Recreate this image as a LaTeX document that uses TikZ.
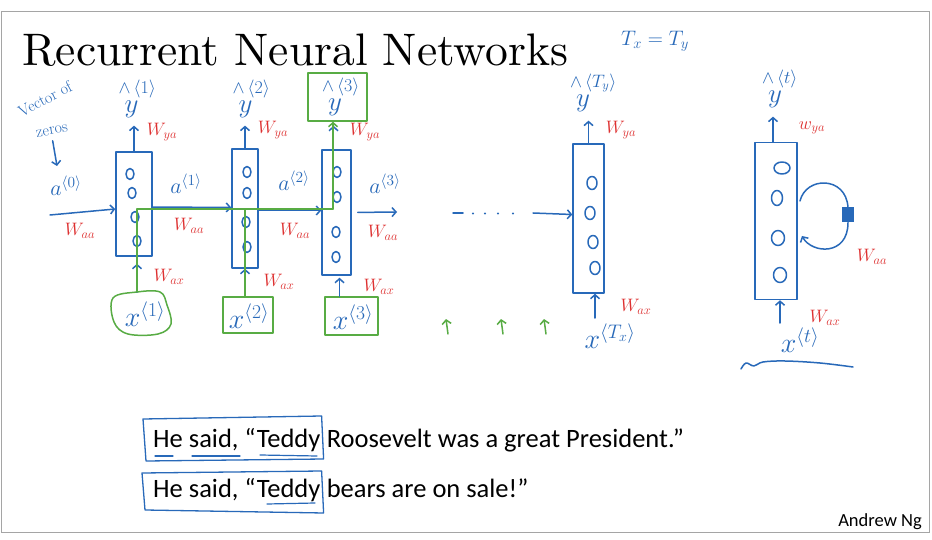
\RequirePackage{fix-cm}
\documentclass[tikz,border=0pt]{standalone}
\usepackage{fontspec}
\newfontfamily\sentfont{Carlito}
\newfontfamily\titlefont{lmroman10-regular.otf}
\usetikzlibrary{arrows.meta,shapes.geometric,calc}
\definecolor{inkblue}{RGB}{40,105,185}
\definecolor{inkred}{RGB}{222,48,48}
\definecolor{inkgreen}{RGB}{88,172,68}
\definecolor{slideframe}{RGB}{165,165,165}
% handwritten-style prediction label: hat and time index raised, y on the baseline
\newcommand{\predlabel}[1]{\rlap{\smash{\raisebox{19pt}{\fontsize{18}{18}\selectfont$\wedge\,\langle #1\rangle$}}}\hspace*{6pt}{\fontsize{27}{27}\selectfont$y$}}
\begin{document}
\begin{tikzpicture}[x=1pt,y=-1pt,
  ink/.style={draw=inkblue,line width=1.5pt,line cap=round,line join=round},
  gink/.style={draw=inkgreen,line width=1.5pt,line cap=round,line join=round},
  arr/.style={ink,-{Straight Barb[length=4pt,width=9pt]}},
  garr/.style={gink,-{Straight Barb[length=4pt,width=9pt]}},
  cell/.style={ink,rectangle,inner sep=0pt},
  neuron/.style={ink,ellipse,inner sep=0pt,minimum width=8pt,minimum height=11pt},
  bigneuron/.style={neuron,minimum width=10pt,minimum height=13pt},
  hugeneuron/.style={neuron,minimum width=13pt,minimum height=15pt},
  lbl/.style={text=inkblue,inner sep=0pt,font=\fontsize{28}{30}\selectfont},
  ylbl/.style={text=inkblue,inner sep=0pt},
  albl/.style={text=inkblue,inner sep=0pt,font=\fontsize{22}{24}\selectfont},
  wlbl/.style={text=inkred,inner sep=0pt,font=\fontsize{18}{20}\selectfont},
  gbox/.style={gink,rectangle,inner sep=0pt},
  sent/.style={inner sep=0pt,font=\sentfont\fontsize{26.5}{30}\selectfont},
]
% page and slide frame
\fill[white] (0,0) rectangle (932,540);
\useasboundingbox (0,0) rectangle (932,540);
\draw[slideframe,line width=1pt] (1.5,12) rectangle (929,532);

% title
\node[anchor=base west,inner sep=0pt,font=\titlefont\fontsize{45.6}{50}\selectfont] (title) at (22,66) {Recurrent Neural Networks};
\node[text=inkblue,inner sep=0pt,font=\fontsize{21}{24}\selectfont] (txty) at (655,41) {$T_x = T_y$};

% unrolled cells
\node[cell,minimum width=36pt,minimum height=104pt] (cA) at (134,204) {};
\node[cell,minimum width=26pt,minimum height=119pt] (cB) at (245,208.5) {};
\node[cell,minimum width=29pt,minimum height=125pt] (cC) at (336.5,212.5) {};
\node[cell,minimum width=31pt,minimum height=149pt] (cD) at (588.5,218.5) {};
\node[cell,minimum width=42pt,minimum height=157pt] (cE) at (776,221) {};

% hidden units
\node[neuron] (nA1) at (130,174) {};
\node[neuron] (nA2) at (132,193) {};
\node[neuron] (nA3) at (135,217) {};
\node[neuron] (nA4) at (137,241) {};
\node[neuron] (nB1) at (247,172) {};
\node[neuron] (nB2) at (247,193) {};
\node[neuron] (nB3) at (246,222) {};
\node[neuron] (nB4) at (247,247) {};
\node[neuron] (nC1) at (337,172) {};
\node[neuron] (nC2) at (337,197) {};
\node[neuron] (nC3) at (336,232) {};
\node[neuron] (nC4) at (336,257) {};
\node[bigneuron] (nD1) at (592,183) {};
\node[bigneuron] (nD2) at (590,213) {};
\node[bigneuron] (nD3) at (593,242) {};
\node[bigneuron] (nD4) at (595,268) {};
\node[hugeneuron,minimum width=16pt,minimum height=12pt] (nE1) at (782,168) {};
\node[hugeneuron,minimum width=11pt] (nE2) at (777,198) {};
\node[hugeneuron] (nE3) at (778,238) {};
\node[hugeneuron] (nE4) at (780,275) {};

% outputs
\node[ylbl] (yA) at (128.5,109) {\predlabel{1}};
\node[ylbl] (yB) at (242.5,109) {\predlabel{2}};
\node[gbox,minimum width=59pt,minimum height=48pt] (yCbox) at (337.5,97) {};
\node[ylbl] (yC) at (332,107) {\predlabel{3}};
\node[ylbl] (yD) at (580,103) {\predlabel{T_y}};
\node[ylbl] (yE) at (772,99) {\predlabel{t}};

\draw[arr,shorten >=8pt] (cA.north) -- (cA.north |- yA.south);
\draw[arr,shorten >=8pt] (cB.north) -- (cB.north |- yB.south);
\draw[arr] ([xshift=-3pt]cC.north) -- ([xshift=-4pt,yshift=-4pt]yCbox.south);
\draw[arr,shorten >=9pt] (cD.north) -- (cD.north |- yD.south);
\draw[arr,shorten >=9pt] ([xshift=-3pt]cE.north) -- ([xshift=-3pt]cE.north |- yE.south);

\node[wlbl] (wyA) at (162,132) {$W_{ya}$};
\node[wlbl] (wyB) at (273,130) {$W_{ya}$};
\node[wlbl] (wyC) at (365,132) {$W_{ya}$};
\node[wlbl] (wyD) at (621,130) {$W_{ya}$};
\node[wlbl] (wyE) at (812,128) {$w_{ya}$};

% activations passed forward
\node[text=inkblue,inner sep=0pt,rotate=28,font=\fontsize{16}{18}\selectfont] (vz1) at (45,99) {Vector of};
\node[text=inkblue,inner sep=0pt,rotate=10,font=\fontsize{16}{18}\selectfont] (vz2) at (52,131) {zeros};
\coordinate (vzEnd) at (57,166);
\draw[arr] ([yshift=-6pt]vz2.south) -- (vzEnd);

\coordinate (a0s) at (50,215);
\coordinate (a3e) at (397,212);
\draw[arr] (a0s) -- ([yshift=-5pt]cA.west);
\draw[arr] ([yshift=-3pt]cA.east) -- ([yshift=1pt]cB.west);
\draw[arr] ([yshift=-2pt]cB.east) -- ([yshift=2pt]cC.west);
\draw[arr,shorten <=6pt] (cC.east) -- (a3e);

\node[albl] (aL0) at (66,186) {$a^{\langle 0\rangle}$};
\node[albl] (aL1) at (186,184) {$a^{\langle 1\rangle}$};
\node[albl] (aL2) at (294,181) {$a^{\langle 2\rangle}$};
\node[albl] (aL3) at (385,184) {$a^{\langle 3\rangle}$};

\node[wlbl] (waA) at (80,231) {$W_{aa}$};
\node[wlbl] (waB) at (189,226) {$W_{aa}$};
\node[wlbl] (waC) at (295,231) {$W_{aa}$};
\node[wlbl] (waD) at (383,233) {$W_{aa}$};

% inputs
\coordinate (xAtop) at (137,292);
\draw[gink] plot[smooth cycle,tension=0.6] coordinates {(113,298) (xAtop) (160,292) (167,305) (171,324) (158,334) (128,334) (114,322)};
\node[gbox,minimum width=50pt,minimum height=36pt] (xBbox) at (248,315) {};
\node[gbox,minimum width=53pt,minimum height=38pt] (xCbox) at (351.5,316) {};
\node[lbl] (xA) at (145,314) {$x^{\langle 1\rangle}$};
\node[lbl] (xB) at (249,316) {$x^{\langle 2\rangle}$};
\node[lbl] (xC) at (353,317) {$x^{\langle 3\rangle}$};

\draw[arr,shorten >=7pt] (xAtop) -- (xAtop |- cA.south);
\draw[arr] ([xshift=-3pt]xBbox.north) -- ([xshift=-3pt]xBbox.north |- cB.south);
\draw[arr,shorten >=2pt] ([xshift=-12pt]xCbox.north) -- ([xshift=-12pt]xCbox.north |- cC.south);

\node[wlbl] (wxA) at (169,277) {$W_{ax}$};
\node[wlbl] (wxB) at (279,282) {$W_{ax}$};
\node[wlbl] (wxC) at (379,287) {$W_{ax}$};

% highlighted dependency path
\coordinate (gturn) at (333,209);
\coordinate (xBtop) at (245,297);
\draw[gink] (xAtop) -- (xAtop |- gturn) -- (gturn);
\draw[gink] (xBtop) -- (xBtop |- gturn);
\draw[garr] (gturn) -- (gturn |- yCbox.south);

% elided time steps
\coordinate (dotS) at (453,213);
\coordinate (dotE) at (463,213);
\draw[ink] (dotS) -- (dotE);
\foreach \px in {473,485,498,513} \fill[inkblue] (\px,213.5) circle (1.1pt);
\coordinate (dArrS) at (533,213);
\draw[arr] (dArrS) -- ([yshift=4pt]cD.west);

\foreach \gx/\gn in {447/gA,502/gB,545/gC}{
  \coordinate (\gn s) at (\gx+1,334);
  \coordinate (\gn e) at (\gx-1,319);
  \draw[garr] (\gn s) -- (\gn e);
}

% last step
\coordinate (xDtop) at (595,318);
\draw[arr] (xDtop) -- ([xshift=6.5pt]cD.south);
\node[wlbl] (wxD) at (636,307) {$W_{ax}$};
\node[lbl] (xD) at (610,336) {$x^{\langle T_x\rangle}$};

% folded recurrent cell
\coordinate (xEtop) at (780,323);
\draw[arr] (xEtop) -- ([xshift=4pt]cE.south);
\node[wlbl] (wxE) at (825,318) {$W_{ax}$};
\node[lbl] (xE) at (800,340) {$x^{\langle t\rangle}$};
\node[fill=inkblue,inner sep=0pt,minimum width=12pt,minimum height=15pt] (delay) at (848,215) {};
\coordinate (loopS) at (800,201);
\coordinate (loopE) at (802,236);
\draw[ink] (loopS) .. controls (806,176) and (846,176) .. (delay.north);
\draw[arr] (delay.south) .. controls (848,256) and (812,254) .. (loopE);
\node[wlbl] (waE) at (872,257) {$W_{aa}$};
\draw[ink] plot[smooth,tension=0.6] coordinates {(741,369) (746,363) (754,366) (763,362) (785,361) (820,363) (853,367)};

% sentences
\node[sent,anchor=base west] (s1a) at (153,447) {He said, “Teddy};
\node[sent,anchor=base west] (s1b) at (s1a.base east) {\mbox{}\ Roosevelt was a great President.”};
\node[sent,anchor=base west] (s2a) at (153,497) {He said, “Teddy};
\node[sent,anchor=base west] (s2b) at (s2a.base east) {\mbox{}\ bears are on sale!”};

\draw[ink,line width=1.3pt] ($(s1a.base west)+(-10,-28)$) -- ($(s1a.base east)+(1,-31)$) -- ($(s1a.base east)+(3,12)$) -- ($(s1a.base west)+(-7,14)$) -- cycle;
\draw[ink,line width=1.3pt] ($(s2a.base west)+(-11,-24)$) -- ($(s2a.base east)+(1,-26)$) -- ($(s2a.base east)+(3,16)$) -- ($(s2a.base west)+(-8,13)$) -- cycle;
\draw[ink,line width=1.2pt] ($(s1a.base west)+(2,9)$) -- +(18,0);
\draw[ink,line width=1.2pt] ($(s1a.base west)+(39,9)$) -- +(48,0);
\draw[ink,line width=1.2pt] ($(s1a.base west)+(107,8)$) -- +(57,1);
\draw[ink,line width=1.2pt] ($(s2a.base west)+(114,7)$) -- +(48,-1);

\node[anchor=base east,inner sep=0pt,font=\sentfont\fontsize{18.5}{21}\selectfont] (author) at (922,526) {Andrew Ng};
\end{tikzpicture}
\end{document}
